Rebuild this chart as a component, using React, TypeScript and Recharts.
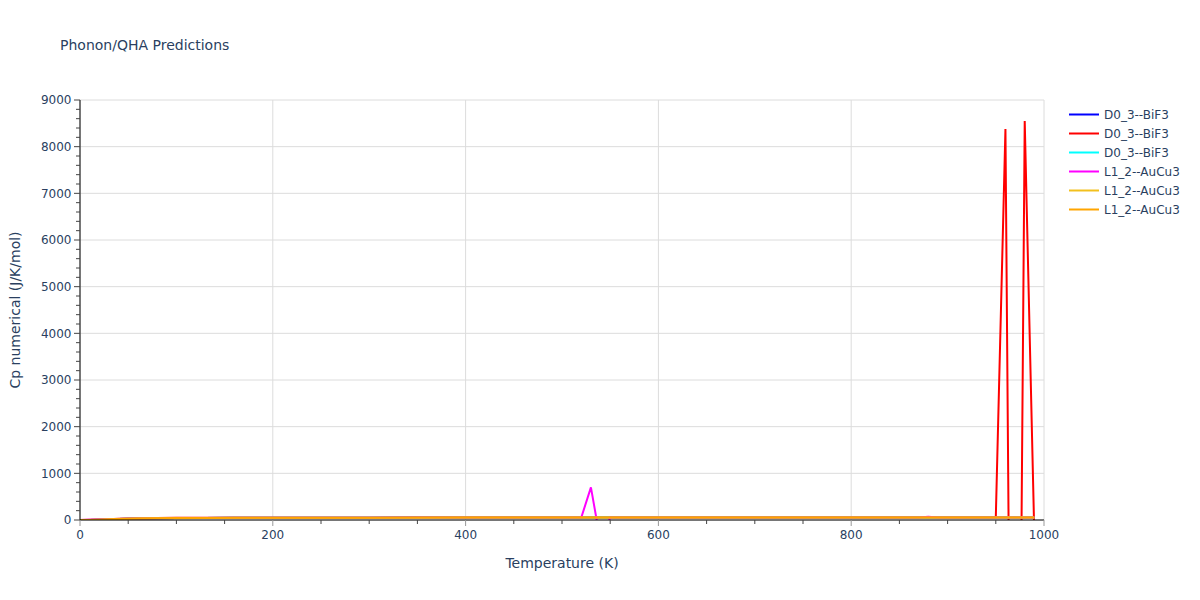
import React from 'react';
import { LineChart, Line, XAxis, YAxis, CartesianGrid } from 'recharts';

// temperatures (K) shared by the smooth curves
const baseTemps = [0, 10, 20, 30, 40, 60, 80, 100, 130, 160, 200, 250, 300, 350, 400, 450, 500, 550, 600, 650, 700, 750, 800, 850, 900, 950, 990];

const blueCp = [0, 2, 8, 15, 22, 32, 38, 42, 45, 47, 48, 49, 50, 51, 51, 51, 52, 52, 52, 52, 52, 53, 53, 53, 53, 53, 53];
const cyanCp = [0, 2, 8, 15, 22, 32, 38, 42, 45, 47, 48, 49, 50, 51, 52, 52, 52, 52, 53, 53, 53, 53, 53, 54, 54, 54, 54];
const goldCp = [0, 1, 6, 13, 20, 30, 36, 40, 44, 46, 47, 49, 50, 50, 51, 51, 51, 52, 52, 52, 52, 52, 53, 53, 53, 53, 53];
const orangeCp = [0, 1, 7, 14, 21, 31, 37, 41, 44, 46, 48, 49, 50, 51, 51, 51, 52, 52, 52, 52, 52, 53, 53, 53, 53, 53, 53];

// red curve blows up near the top of the range
const redTemps = [0, 10, 20, 30, 40, 60, 80, 100, 130, 160, 200, 250, 300, 350, 400, 450, 500, 550, 600, 650, 700, 750, 800, 850, 900, 950, 960, 970, 980, 990];
const redCp = [0, 3, 10, 18, 26, 36, 43, 46, 47, 47, 48, 49, 50, 51, 51, 51, 52, 52, 52, 52, 52, 53, 53, 53, 53, 53, 8380, -17500, 8550, -360];

// magenta has a spike at 530 K
const magentaTemps = [0, 10, 20, 30, 40, 60, 80, 100, 130, 160, 200, 250, 300, 350, 400, 450, 500, 520, 530, 540, 550, 600, 650, 700, 750, 800, 850, 870, 880, 890, 900, 950, 990];
const magentaCp = [0, 3, 9, 16, 23, 33, 39, 43, 45, 50, 47, 49, 50, 51, 51, 51, 52, 52, 700, -470, 52, 52, 52, 52, 53, 53, 53, 53, 70, 53, 53, 53, 53];

const xMajorTicks = [0, 200, 400, 600, 800, 1000];
const yMajorTicks = [0, 1000, 2000, 3000, 4000, 5000, 6000, 7000, 8000, 9000];
const xMinorTicks = Array.from({ length: 21 }, (_, i) => i * 50);
const yMinorTicks = Array.from({ length: 46 }, (_, i) => i * 200);

const toPoints = (temps: number[], cp: number[]) => temps.map((T, i) => ({ T, cp: cp[i] }));

const series = [
  { name: 'D0_3--BiF3', color: '#0000ff', data: toPoints(baseTemps, blueCp) },
  { name: 'D0_3--BiF3', color: '#ff0000', data: toPoints(redTemps, redCp) },
  { name: 'D0_3--BiF3', color: '#00ffff', data: toPoints(baseTemps, cyanCp) },
  { name: 'L1_2--AuCu3', color: '#ff00ff', data: toPoints(magentaTemps, magentaCp) },
  { name: 'L1_2--AuCu3', color: '#f2c01e', data: toPoints(baseTemps, goldCp) },
  { name: 'L1_2--AuCu3', color: '#ffa500', data: toPoints(baseTemps, orangeCp) },
];

const FONT = '"DejaVu Sans", Verdana, sans-serif';
const TEXT = '#2a3f5f';

const XTick = (props: any) => {
  const { x, y, payload } = props;
  const major = payload.value % 200 === 0;
  return (
    <g>
      <line x1={x} x2={x} y1={y} y2={y + (major ? 6 : 4)} stroke={major ? '#999' : '#444'} />
      {major && (
        <text x={x} y={y + 19} textAnchor="middle" fill={TEXT} fontSize={12} fontFamily={FONT}>
          {payload.value}
        </text>
      )}
    </g>
  );
};

const YTick = (props: any) => {
  const { x, y, payload } = props;
  const major = payload.value % 1000 === 0;
  return (
    <g>
      <line x1={x - (major ? 6 : 4)} x2={x} y1={y} y2={y} stroke="#444" />
      {major && (
        <text x={x - 8.5} y={y + 4.3} textAnchor="end" fill={TEXT} fontSize={12} fontFamily={FONT}>
          {payload.value}
        </text>
      )}
    </g>
  );
};

const LegendBox = () => (
  <div style={{ position: 'absolute', left: 1066, top: 105, fontFamily: FONT, fontSize: 12, color: TEXT }}>
    {series.map((s, i) => (
      <div key={i} style={{ display: 'flex', alignItems: 'center', height: 19 }}>
        <svg width={33} height={19}>
          <line x1={3} x2={33} y1={9.5} y2={9.5} stroke={s.color} strokeWidth={2} />
        </svg>
        <span style={{ marginLeft: 5, whiteSpace: 'nowrap' }}>{s.name}</span>
      </div>
    ))}
  </div>
);

export default function App() {
  return (
    <div style={{ position: 'absolute', left: 0, top: 0, width: 1200, height: 600, background: '#fff' }}>
      <LineChart width={1200} height={600} margin={{ top: 100, right: 156, bottom: 0, left: 0 }}>
        <CartesianGrid stroke="#dcdcdc" verticalValues={xMajorTicks} horizontalValues={yMajorTicks} />
        <XAxis
          dataKey="T"
          type="number"
          domain={[0, 1000]}
          allowDataOverflow
          ticks={xMinorTicks}
          interval={0}
          height={80}
          tickSize={0}
          tickMargin={0}
          tickLine={false}
          tick={<XTick />}
          axisLine={{ stroke: '#000', strokeWidth: 1 }}
        />
        <YAxis
          type="number"
          domain={[0, 9000]}
          allowDataOverflow
          ticks={yMinorTicks}
          interval={0}
          width={80}
          tickSize={0}
          tickMargin={0}
          tickLine={false}
          tick={<YTick />}
          axisLine={{ stroke: '#000', strokeWidth: 1 }}
        />
        {series.map((s, i) => (
          <Line
            key={i}
            data={s.data}
            dataKey="cp"
            name={s.name}
            type="linear"
            stroke={s.color}
            strokeWidth={2}
            dot={false}
            activeDot={false}
            isAnimationActive={false}
          />
        ))}
      </LineChart>
      <LegendBox />
      <svg width={1200} height={600} style={{ position: 'absolute', left: 0, top: 0, pointerEvents: 'none' }}>
        <text x={60} y={50} fontSize={14} fontFamily={FONT} fill={TEXT}>
          Phonon/QHA Predictions
        </text>
        <text x={562} y={568} textAnchor="middle" fontSize={14} fontFamily={FONT} fill={TEXT}>
          Temperature (K)
        </text>
        <text x={20} y={310} textAnchor="middle" fontSize={14} fontFamily={FONT} fill={TEXT} transform="rotate(-90 20 310)">
          Cp numerical (J/K/mol)
        </text>
      </svg>
    </div>
  );
}
